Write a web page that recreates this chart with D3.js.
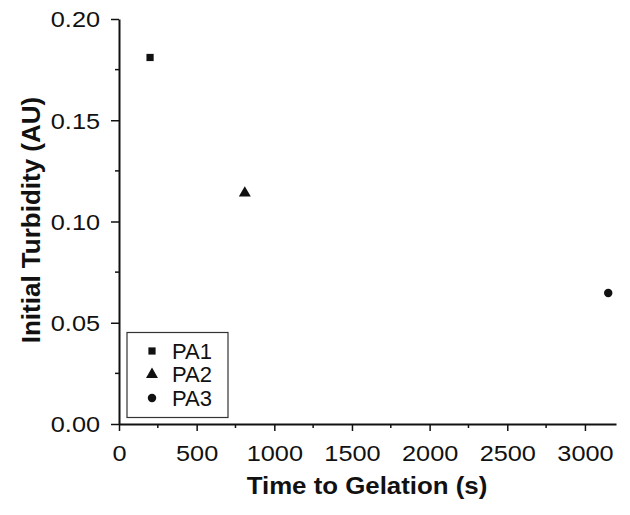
<!DOCTYPE html>
<html><head><meta charset="utf-8">
<script src="https://cdn.jsdelivr.net/npm/d3@7"></script>
<style>body{margin:0;background:#fff}svg{display:block}text{font-family:"Liberation Sans",Arial,sans-serif;fill:#111}</style>
</head><body><svg id="c" width="630" height="515"></svg>
<script>
const series = ["PA1","PA2","PA3"];
const gelTime = [200, 810, 3150];
const turbidity = [0.181, 0.114, 0.0647];
const symbols = [d3.symbolSquare, d3.symbolTriangle, d3.symbolCircle];
const symSizes = [52, 62, 56];
const xTicks = [0,500,1000,1500,2000,2500,3000];
const yTicks = [0,0.05,0.10,0.15,0.20];
const xMinor = [250,750,1250,1750,2250,2750];
const yMinor = [0.025,0.075,0.125,0.175];

const svg = d3.select("#c");
const x = d3.scaleLinear().domain([0,3200]).range([119,616]);
const y = d3.scaleLinear().domain([0,0.2]).range([424,19]);
const ink = "#111";

// minor ticks
svg.append("g").selectAll("line").data(xMinor).join("line")
  .attr("x1",d=>x(d)).attr("x2",d=>x(d)).attr("y1",y(0)).attr("y2",y(0)+4)
  .attr("stroke",ink).attr("stroke-width",1.5);
svg.append("g").selectAll("line").data(yMinor).join("line")
  .attr("x1",x(0)-4).attr("x2",x(0)).attr("y1",d=>y(d)).attr("y2",d=>y(d))
  .attr("stroke",ink).attr("stroke-width",1.5);

const sx = 1.15;
const gx = svg.append("g").attr("transform",`translate(0,${y(0)})`)
  .call(d3.axisBottom(x).tickValues(xTicks).tickSize(7).tickSizeOuter(0).tickPadding(10).tickFormat(d3.format("d")));
gx.select(".domain").attr("stroke",ink).attr("stroke-width",2);
gx.selectAll(".tick line").attr("stroke",ink).attr("stroke-width",1.5);
gx.selectAll(".tick text").attr("font-size",22).attr("font-family",null).attr("fill",ink)
  .attr("transform",`scale(${sx},1)`).attr("y",21).attr("dy","0.71em");

const gy = svg.append("g").attr("transform",`translate(${x(0)},0)`)
  .call(d3.axisLeft(y).tickValues(yTicks).tickSize(8).tickSizeOuter(0).tickPadding(11).tickFormat(d3.format(".2f")));
gy.select(".domain").attr("stroke",ink).attr("stroke-width",2);
gy.selectAll(".tick line").attr("stroke",ink).attr("stroke-width",1.5);
gy.selectAll(".tick text").attr("font-size",22).attr("font-family",null).attr("fill",ink)
  .attr("transform",`scale(${sx},1)`).attr("x",-19/sx).attr("dy","0.36em");

// points
svg.append("g").selectAll("path").data(series).join("path")
  .attr("transform",(d,i)=>`translate(${x(gelTime[i])},${y(turbidity[i])})`)
  .attr("d",(d,i)=>d3.symbol().type(symbols[i]).size(symSizes[i])())
  .attr("fill",ink);

// axis titles
svg.append("text").attr("x",367/1.1).attr("y",494).attr("text-anchor","middle")
  .attr("transform","scale(1.1,1)")
  .attr("font-size",23.5).attr("font-weight","bold").text("Time to Gelation (s)");
svg.append("text").attr("transform","translate(40,220) rotate(-90)").attr("text-anchor","middle")
  .attr("font-size",26).attr("font-weight","bold").text("Initial Turbidity (AU)");

// legend
const lg = svg.append("g");
lg.append("rect").attr("x",127).attr("y",332.5).attr("width",101).attr("height",85)
  .attr("fill","#fff").attr("stroke","#333").attr("stroke-width",1.2);
const rows = lg.selectAll("g").data(series).join("g")
  .attr("transform",(d,i)=>`translate(152,${351+i*23.5})`);
rows.append("path").attr("d",(d,i)=>d3.symbol().type(symbols[i]).size(symSizes[i])()).attr("fill",ink);
rows.append("text").attr("x",20).attr("dy","0.36em").attr("font-size",22).text(d=>d);
</script></body></html>
